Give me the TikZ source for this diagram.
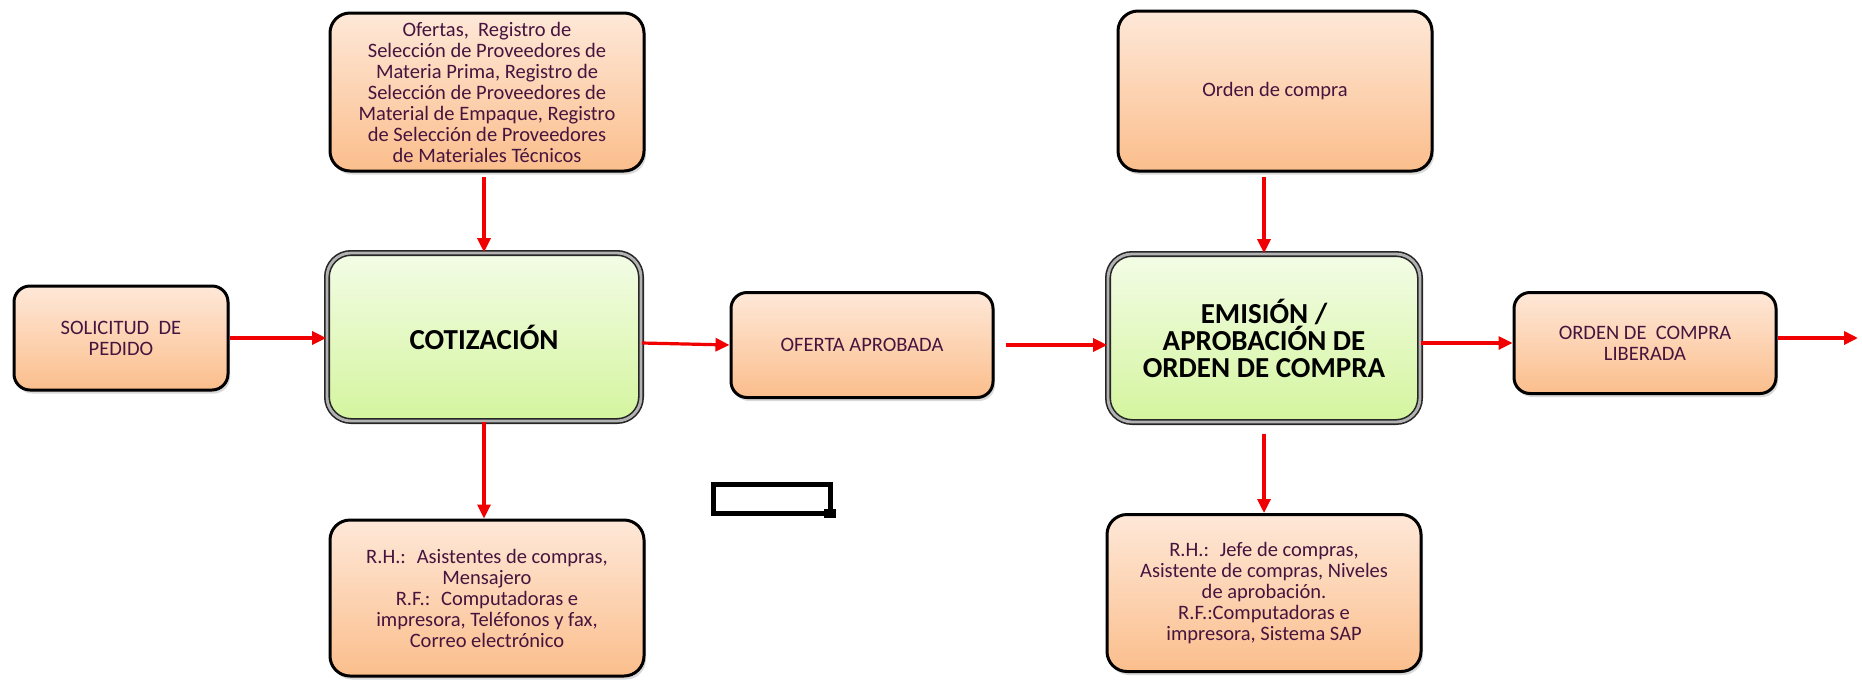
\documentclass[tikz,border=0pt]{standalone}
\usepackage{fontspec}
\setmainfont{Carlito}
\usetikzlibrary{arrows.meta,shadows,calc}

\definecolor{peachtop}{RGB}{254,232,216}
\definecolor{peachbot}{RGB}{251,190,140}
\definecolor{limetop}{RGB}{243,252,230}
\definecolor{limebot}{RGB}{212,245,158}
\definecolor{inkpurple}{RGB}{70,20,62}
\definecolor{flowred}{RGB}{240,0,0}

\tikzset{
  base/.style={rectangle, rounded corners=20pt, inner sep=0pt, align=center},
  infobox/.style={base, draw=black, line width=3pt,
    top color=peachtop, bottom color=peachbot, text=inkpurple,
    font=\fontsize{20.5}{21}\selectfont,
    drop shadow={shadow xshift=2pt, shadow yshift=-3.5pt, opacity=0.3}},
  stagebox/.style={base, rounded corners=24pt, draw=black!85, double=gray!60,
    double distance=2.8pt, line width=1.6pt,
    top color=limetop, bottom color=limebot, text=black,
    font=\bfseries\fontsize{29}{27}\selectfont},
  flow/.style={draw=flowred, line width=3.2pt, -{Triangle[length=14pt,width=13pt]}},
}

\begin{document}
\begin{tikzpicture}[x=1pt, y=-1pt]
  \useasboundingbox (0,0) rectangle (1862,683);

  % inputs above the two stages
  \node[infobox, minimum width=314pt, minimum height=158pt] (insumos) at (487,92)
    {Ofertas,~ Registro de\\Selección de Proveedores de\\Materia Prima, Registro de\\Selección de Proveedores de\\Material de Empaque, Registro\\de Selección de Proveedores\\de Materiales Técnicos};
  \node[infobox, minimum width=314pt, minimum height=160pt] (orden) at (1275,91)
    {Orden de compra};

  % main flow
  \node[infobox, rounded corners=16pt, minimum width=214pt, minimum height=104pt] (solicitud) at (121,338)
    {SOLICITUD~ DE\\PEDIDO};
  \node[stagebox, minimum width=314pt, minimum height=168pt] (cotizacion) at (484,337)
    {COTIZACIÓN};
  \node[infobox, rounded corners=16pt, minimum width=262pt, minimum height=105pt] (oferta) at (862,345)
    {OFERTA APROBADA};
  \node[stagebox, minimum width=312pt, minimum height=168pt] (emision) at (1264,338)
    {EMISIÓN /\\APROBACIÓN DE\\ORDEN DE COMPRA};
  \node[infobox, rounded corners=16pt, minimum width=262pt, minimum height=101pt] (liberada) at (1645,343)
    {ORDEN DE~ COMPRA\\LIBERADA};

  % resources below the two stages
  \node[infobox, minimum width=314pt, minimum height=156pt] (rhcot) at (487,598)
    {R.H.:~ Asistentes de compras,\\Mensajero\\R.F.:~ Computadoras e\\impresora, Teléfonos y fax,\\Correo electrónico};
  \node[infobox, minimum width=314pt, minimum height=157pt] (rhemi) at (1264,593)
    {R.H.:~ Jefe de compras,\\Asistente de compras, Niveles\\de aprobación.\\R.F.:Computadoras e\\impresora, Sistema SAP};

  % connectors
  \coordinate (salida) at (1858,338);
  \draw[flow] (solicitud.east) -- (solicitud.east -| cotizacion.west);
  \draw[flow] ([yshift=-6pt]cotizacion.east) -- (oferta.west);
  \draw[flow] ([xshift=11pt]oferta.east) -- (oferta.east -| emision.west);
  \draw[flow] (liberada.west -| emision.east) -- (liberada.west);
  \draw[flow, line width=4pt] (liberada.east |- salida) -- (salida);
  \draw[flow, shorten <=4pt] (cotizacion.north |- insumos.south) -- (cotizacion.north);
  \draw[flow] (cotizacion.south) -- (cotizacion.south |- rhcot.north);
  \draw[flow, shorten <=4pt] (emision.north |- orden.south) -- (emision.north);
  \draw[flow, shorten <=11pt] (emision.south) -- (emision.south |- rhemi.north);

  % empty text frame with its handle
  \draw[line width=5pt] (713.5,484.5) rectangle (830.5,513.5);
  \fill (824,509) rectangle (836,518);
\end{tikzpicture}
\end{document}
